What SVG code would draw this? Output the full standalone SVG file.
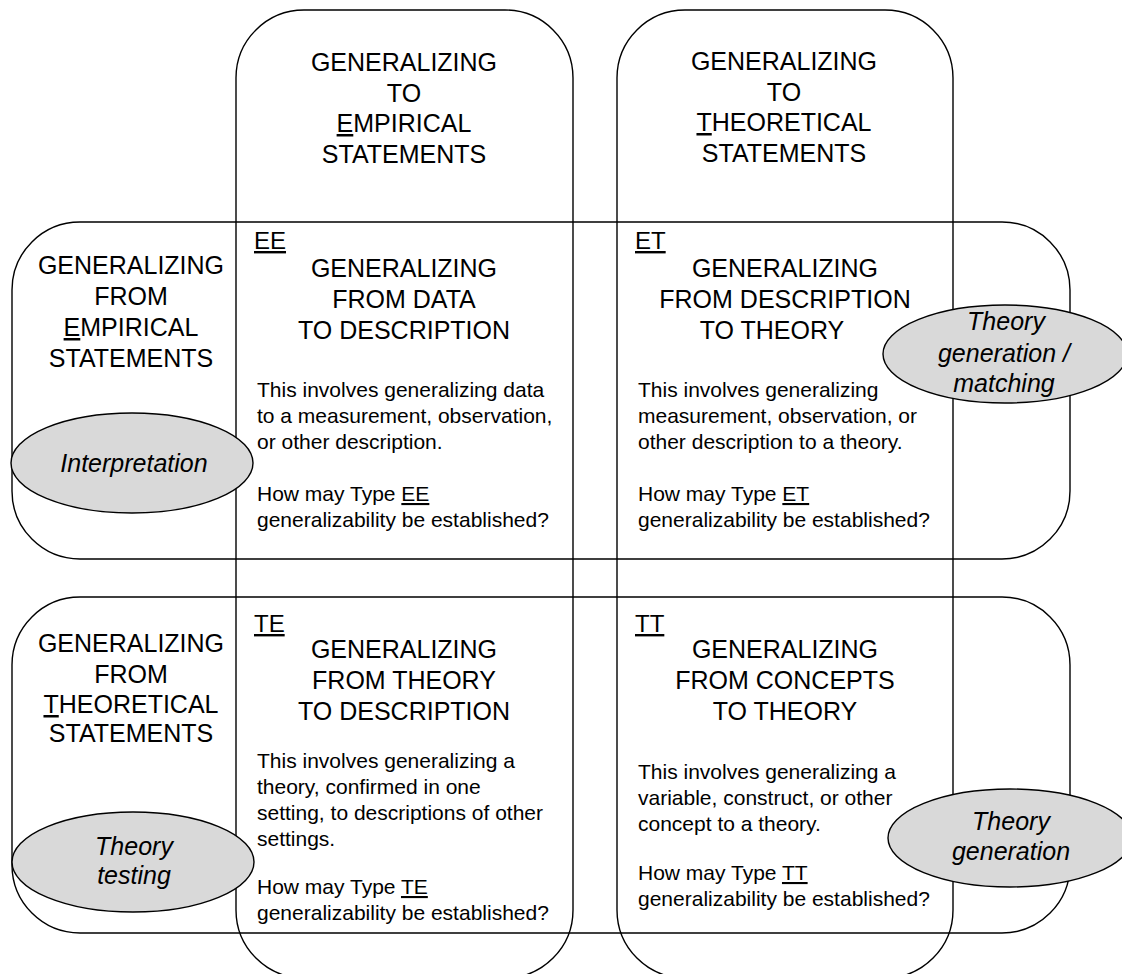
<svg xmlns="http://www.w3.org/2000/svg" width="1122" height="974" viewBox="0 0 1122 974">
  <style>
    .band { fill: none; stroke: #000; stroke-width: 1.4; }
    .oval { fill: #d9d9d9; stroke: #000; stroke-width: 1.4; }
    .hd { font-family: "Liberation Sans", Arial, sans-serif; font-size: 25px; fill: #000; text-anchor: middle; }
    .lbl { font-family: "Liberation Sans", Arial, sans-serif; font-size: 24px; fill: #000; text-decoration: underline; }
    .body { font-family: "Liberation Sans", Arial, sans-serif; font-size: 21px; fill: #000; }
    .it { font-family: "Liberation Sans", Arial, sans-serif; font-size: 25px; font-style: italic; fill: #000; text-anchor: middle; }
    .u { text-decoration: underline; }
  </style>

  <!-- overlapping bands: two columns and two rows -->
  <g id="bands">
    <rect id="col-empirical" class="band" x="236" y="10" width="337" height="968" rx="68" ry="68"/>
    <rect id="col-theoretical" class="band" x="617" y="10" width="336" height="968" rx="68" ry="68"/>
    <rect id="row-empirical" class="band" x="12" y="222" width="1058" height="337" rx="68" ry="68"/>
    <rect id="row-theoretical" class="band" x="12" y="597" width="1058" height="336" rx="68" ry="68"/>
  </g>

  <!-- column headings -->
  <g id="head-to-empirical">
    <text class="hd" x="404" y="71">GENERALIZING</text>
    <text class="hd" x="404" y="102">TO</text>
    <text class="hd" x="404" y="132"><tspan class="u">E</tspan>MPIRICAL</text>
    <text class="hd" x="404" y="163">STATEMENTS</text>
  </g>
  <g id="head-to-theoretical">
    <text class="hd" x="784" y="70">GENERALIZING</text>
    <text class="hd" x="784" y="101">TO</text>
    <text class="hd" x="784" y="131"><tspan class="u">T</tspan>HEORETICAL</text>
    <text class="hd" x="784" y="162">STATEMENTS</text>
  </g>

  <!-- row headings -->
  <g id="head-from-empirical">
    <text class="hd" x="131" y="274">GENERALIZING</text>
    <text class="hd" x="131" y="305">FROM</text>
    <text class="hd" x="131" y="336"><tspan class="u">E</tspan>MPIRICAL</text>
    <text class="hd" x="131" y="367">STATEMENTS</text>
  </g>
  <g id="head-from-theoretical">
    <text class="hd" x="131" y="652">GENERALIZING</text>
    <text class="hd" x="131" y="683">FROM</text>
    <text class="hd" x="131" y="713"><tspan class="u">T</tspan>HEORETICAL</text>
    <text class="hd" x="131" y="742">STATEMENTS</text>
  </g>

  <!-- cell EE -->
  <g id="cell-ee">
    <text class="lbl" x="254" y="249">EE</text>
    <text class="hd" x="404" y="277">GENERALIZING</text>
    <text class="hd" x="404" y="308">FROM DATA</text>
    <text class="hd" x="404" y="339">TO DESCRIPTION</text>
    <text class="body" x="257" y="397">This involves generalizing data</text>
    <text class="body" x="257" y="423">to a measurement, observation,</text>
    <text class="body" x="257" y="449">or other description.</text>
    <text class="body" x="257" y="501">How may Type <tspan class="u">EE</tspan></text>
    <text class="body" x="257" y="527">generalizability be established?</text>
  </g>

  <!-- cell ET -->
  <g id="cell-et">
    <text class="lbl" x="635" y="249">ET</text>
    <text class="hd" x="785" y="277">GENERALIZING</text>
    <text class="hd" x="785" y="308">FROM DESCRIPTION</text>
    <text class="hd" x="772" y="339">TO THEORY</text>
    <text class="body" x="638" y="397">This involves generalizing</text>
    <text class="body" x="638" y="423">measurement, observation, or</text>
    <text class="body" x="638" y="449">other description to a theory.</text>
    <text class="body" x="638" y="501">How may Type <tspan class="u">ET</tspan></text>
    <text class="body" x="638" y="527">generalizability be established?</text>
  </g>

  <!-- cell TE -->
  <g id="cell-te">
    <text class="lbl" x="254" y="632">TE</text>
    <text class="hd" x="404" y="658">GENERALIZING</text>
    <text class="hd" x="404" y="689">FROM THEORY</text>
    <text class="hd" x="404" y="720">TO DESCRIPTION</text>
    <text class="body" x="257" y="768">This involves generalizing a</text>
    <text class="body" x="257" y="794">theory, confirmed in one</text>
    <text class="body" x="257" y="820">setting, to descriptions of other</text>
    <text class="body" x="257" y="846">settings.</text>
    <text class="body" x="257" y="894">How may Type <tspan class="u">TE</tspan></text>
    <text class="body" x="257" y="920">generalizability be established?</text>
  </g>

  <!-- cell TT -->
  <g id="cell-tt">
    <text class="lbl" x="635" y="632">TT</text>
    <text class="hd" x="785" y="658">GENERALIZING</text>
    <text class="hd" x="785" y="689">FROM CONCEPTS</text>
    <text class="hd" x="785" y="720">TO THEORY</text>
    <text class="body" x="638" y="779">This involves generalizing a</text>
    <text class="body" x="638" y="805">variable, construct, or other</text>
    <text class="body" x="638" y="831">concept to a theory.</text>
    <text class="body" x="638" y="880">How may Type <tspan class="u">TT</tspan></text>
    <text class="body" x="638" y="906">generalizability be established?</text>
  </g>

  <!-- shaded ovals naming each kind of reasoning -->
  <g id="oval-interpretation">
    <ellipse class="oval" cx="132" cy="463" rx="121" ry="50"/>
    <text class="it" x="134" y="472">Interpretation</text>
  </g>
  <g id="oval-generation-matching">
    <ellipse class="oval" cx="1005" cy="354" rx="122" ry="49"/>
    <text class="it" x="1006" y="330">Theory</text>
    <text class="it" x="1004" y="362">generation /</text>
    <text class="it" x="1004" y="392">matching</text>
  </g>
  <g id="oval-testing">
    <ellipse class="oval" cx="133" cy="862" rx="121" ry="50"/>
    <text class="it" x="134" y="855">Theory</text>
    <text class="it" x="134" y="884">testing</text>
  </g>
  <g id="oval-generation">
    <ellipse class="oval" cx="1010" cy="838" rx="122" ry="49"/>
    <text class="it" x="1011" y="830">Theory</text>
    <text class="it" x="1011" y="860">generation</text>
  </g>
</svg>
